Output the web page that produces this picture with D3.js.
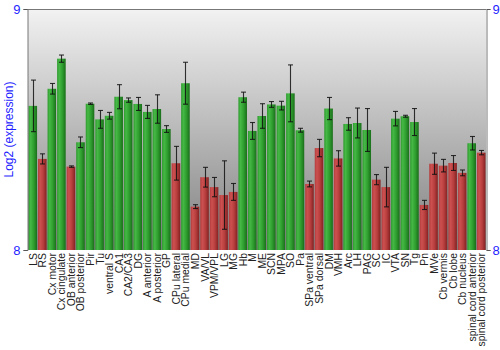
<!DOCTYPE html>
<html>
<head>
<meta charset="utf-8">
<script src="https://cdn.jsdelivr.net/npm/d3@7"></script>
<style>
  html, body { margin: 0; padding: 0; background: #fff; }
  svg { display: block; font-family: "Liberation Sans", Arial, sans-serif; }
</style>
</head>
<body>
<svg id="chart" width="500" height="350"></svg>
<script>
// Brain regions, in display order
const regions = [
  "LS", "RS", "Cx motor", "Cx cingulate", "OB anterior", "OB posterior", "Pir", "Tu",
  "ventral S", "CA1", "CA2/CA3", "DG", "A anterior", "A posterior", "GP", "CPu lateral",
  "CPu medial", "MD", "VA/VL", "VPM/VPL", "LG", "MG", "Hb", "M", "ME", "SCN", "MPA", "SO",
  "Pa", "SPa ventral", "SPa dorsal", "DM", "VMH", "Arc", "LH", "PAG", "SC", "IC", "VTA",
  "SN", "Tg", "Pn", "MVe", "Cb vermis", "Cb lobe", "Cb nucleus",
  "spinal cord anterior", "spinal cord posterior"
];

// Mean log2 expression per region
const expression = [
  8.598, 8.378, 8.669, 8.794, 8.346, 8.447, 8.607, 8.542,
  8.557, 8.636, 8.622, 8.606, 8.573, 8.585, 8.502, 8.360,
  8.692, 8.180, 8.302, 8.261, 8.228, 8.241, 8.634, 8.494, 8.556, 8.604, 8.599, 8.650,
  8.497, 8.274, 8.423, 8.587, 8.380, 8.523, 8.527, 8.498, 8.292, 8.261, 8.545,
  8.555, 8.531, 8.187, 8.358, 8.350, 8.361, 8.320,
  8.443, 8.404
];

// Standard error per region
const stdError = [
  0.107, 0.021, 0.022, 0.015, 0.003, 0.022, 0.003, 0.037,
  0.014, 0.050, 0.009, 0.027, 0.027, 0.059, 0.014, 0.070,
  0.087, 0.008, 0.041, 0.040, 0.142, 0.035, 0.021, 0.035, 0.051, 0.012, 0.018, 0.118,
  0.008, 0.012, 0.036, 0.046, 0.032, 0.026, 0.062, 0.089, 0.021, 0.082, 0.030,
  0.004, 0.056, 0.019, 0.044, 0.026, 0.031, 0.012,
  0.028, 0.009
];

// Expression class: "high" drawn green, "low" drawn red
const level = [
  "high", "low", "high", "high", "low", "high", "high", "high",
  "high", "high", "high", "high", "high", "high", "high", "low",
  "high", "low", "low", "low", "low", "low", "high", "high", "high", "high", "high", "high",
  "high", "low", "low", "high", "low", "high", "high", "high", "low", "low", "high",
  "high", "high", "low", "low", "low", "low", "low",
  "high", "low"
];

const yTicks = [8, 9];

const svg = d3.select("#chart");
const margin = { left: 28, right: 14, top: 9, bottom: 100 };
const W = 500, H = 350;
const x0 = margin.left, x1 = W - margin.right;
const yTop = margin.top, yBot = H - margin.bottom;

const x = d3.scaleBand().domain(regions).range([x0, x1]).paddingInner(0.1).paddingOuter(0.05);
const y = d3.scaleLinear().domain([8, 9]).range([yBot, yTop]);

const defs = svg.append("defs");

// Plot background: light at the top, darker grey toward the baseline
const bg = defs.append("linearGradient").attr("id", "bg").attr("x1", 0).attr("y1", 0).attr("x2", 0).attr("y2", 1);
bg.append("stop").attr("offset", "0%").attr("stop-color", "#f2f2f2");
bg.append("stop").attr("offset", "100%").attr("stop-color", "#808080");

// Shaded bar fills, lighter on the left and darker on the right edge
function barGradient(id, edge, light, mid, dark) {
  const g = defs.append("linearGradient").attr("id", id).attr("x1", 0).attr("y1", 0).attr("x2", 1).attr("y2", 0);
  g.append("stop").attr("offset", "0%").attr("stop-color", edge);
  g.append("stop").attr("offset", "25%").attr("stop-color", light);
  g.append("stop").attr("offset", "60%").attr("stop-color", mid);
  g.append("stop").attr("offset", "100%").attr("stop-color", dark);
}
barGradient("gGreen", "#2e9a2e", "#45b845", "#2f9f2f", "#1a6e1a");
barGradient("gRed", "#b23c3c", "#cc5050", "#b83e3e", "#832222");

svg.append("rect")
  .attr("x", x0).attr("y", yTop)
  .attr("width", x1 - x0).attr("height", yBot - yTop)
  .attr("fill", "url(#bg)");

// Bars
svg.append("g").selectAll("rect")
  .data(regions)
  .join("rect")
  .attr("x", d => x(d))
  .attr("width", x.bandwidth())
  .attr("y", (d, i) => y(expression[i]))
  .attr("height", (d, i) => y(8) - y(expression[i]))
  .attr("fill", (d, i) => level[i] === "high" ? "url(#gGreen)" : "url(#gRed)");

// Error bars
const eb = svg.append("g").attr("stroke", "#111").attr("stroke-width", 1.1).attr("stroke-opacity", 0.85);
regions.forEach((r, i) => {
  const cx = Math.round(x(r) + x.bandwidth() / 2) + 0.5;
  const hi = y(expression[i] + stdError[i]);
  const lo = y(expression[i] - stdError[i]);
  eb.append("line").attr("x1", cx).attr("x2", cx).attr("y1", hi).attr("y2", lo);
  eb.append("line").attr("x1", cx - 2.5).attr("x2", cx + 2.5).attr("y1", hi).attr("y2", hi);
  eb.append("line").attr("x1", cx - 2.5).attr("x2", cx + 2.5).attr("y1", lo).attr("y2", lo);
});

// Frame: top edge plus left and right axes
svg.append("line").attr("x1", x0).attr("x2", x1).attr("y1", yTop + 0.5).attr("y2", yTop + 0.5)
  .attr("stroke", "#777");

const leftAxis = svg.append("g").attr("transform", `translate(${x0 - 0.5},0)`)
  .call(d3.axisLeft(y).tickValues(yTicks).tickFormat(d3.format("d")).tickSize(4).tickPadding(3));
const rightAxis = svg.append("g").attr("transform", `translate(${x1 + 0.5},0)`)
  .call(d3.axisRight(y).tickValues(yTicks).tickFormat(d3.format("d")).tickSize(4).tickPadding(2));
[leftAxis, rightAxis].forEach(a => {
  a.select(".domain").attr("stroke", "#777");
  a.selectAll(".tick line").attr("stroke", "#555");
  a.selectAll(".tick text").attr("fill", "#1f1fff").attr("font-size", 13)
    .attr("font-family", "\"Liberation Sans\", Arial, sans-serif");
});

// Region labels, rotated under each bar
svg.append("g").selectAll("text")
  .data(regions)
  .join("text")
  .attr("transform", d => `translate(${x(d) + x.bandwidth() / 2 + 4},${yBot + 3}) rotate(-90)`)
  .attr("text-anchor", "end")
  .attr("font-size", 10.4)
  .attr("fill", "#222")
  .text(d => d);

// Y-axis title
svg.append("text")
  .attr("transform", `translate(13,${(yTop + yBot) / 2}) rotate(-90)`)
  .attr("text-anchor", "middle")
  .attr("font-size", 12)
  .attr("fill", "#1f1fff")
  .text("Log2 (expression)");
</script>
</body>
</html>
